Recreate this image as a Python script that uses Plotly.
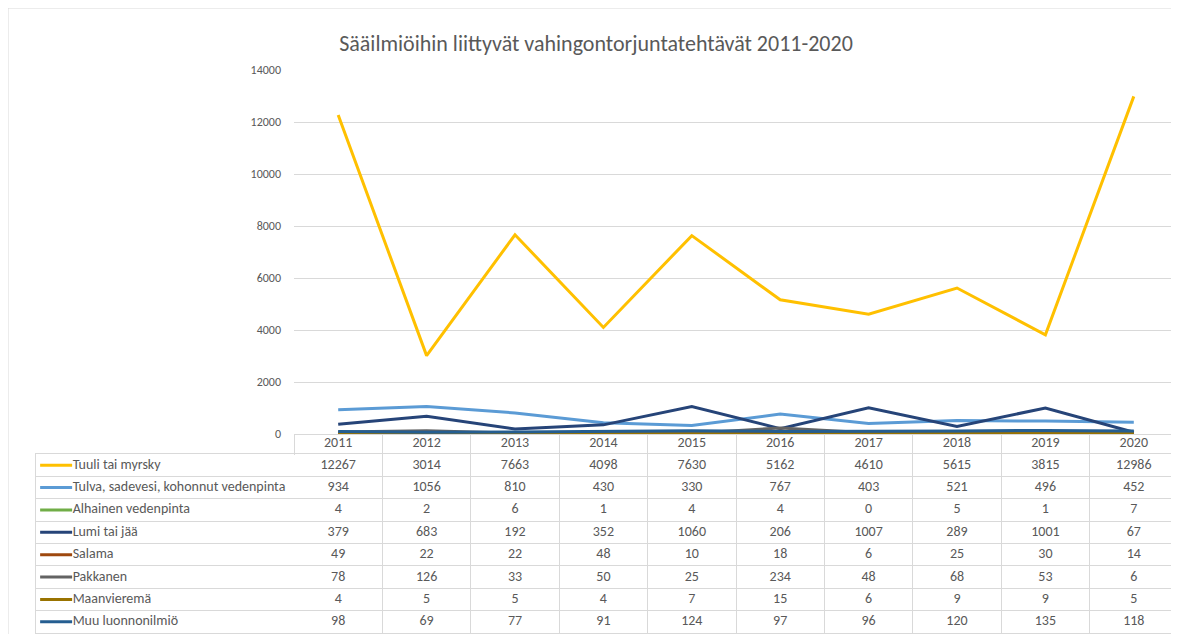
import plotly.graph_objects as go

# vuodet ja sarjat
years = ["2011", "2012", "2013", "2014", "2015", "2016", "2017", "2018", "2019", "2020"]

tuuli = [12267, 3014, 7663, 4098, 7630, 5162, 4610, 5615, 3815, 12986]
tulva = [934, 1056, 810, 430, 330, 767, 403, 521, 496, 452]
alhainen = [4, 2, 6, 1, 4, 4, 0, 5, 1, 7]
lumi = [379, 683, 192, 352, 1060, 206, 1007, 289, 1001, 67]
salama = [49, 22, 22, 48, 10, 18, 6, 25, 30, 14]
pakkanen = [78, 126, 33, 50, 25, 234, 48, 68, 53, 6]
maanvierema = [4, 5, 5, 4, 7, 15, 6, 9, 9, 5]
muu = [98, 69, 77, 91, 124, 97, 96, 120, 135, 118]

names = ["Tuuli tai myrsky", "Tulva, sadevesi, kohonnut vedenpinta",
         "Alhainen vedenpinta", "Lumi tai jää", "Salama", "Pakkanen",
         "Maanvieremä", "Muu luonnonilmiö"]
series = [tuuli, tulva, alhainen, lumi, salama, pakkanen, maanvierema, muu]
colors = ["#FFC000", "#5B9BD5", "#70AD47", "#264478",
          "#9E480E", "#636363", "#997300", "#255E91"]

FONT = "Carlito, Calibri, 'Liberation Sans Narrow', 'Open Sans', sans-serif"
GRID = "#d9d9d9"
TXT = "#595959"

W, H = 1179, 634
OFF = 8  # sivun oletusmarginaali
def px_x(v): return (v - OFF) / W
def px_y(v): return 1 - (v - OFF) / H

fig = go.Figure()

# viivat
for name, vals, c in zip(names, series, colors):
    fig.add_trace(go.Scatter(x=years, y=vals, mode="lines", name=name,
                             line=dict(color=c, width=3), xaxis="x", yaxis="y",
                             showlegend=False))

# taulukon arvot
for name, vals in zip(names, series):
    fig.add_trace(go.Scatter(x=years, y=[name] * len(years), mode="text",
                             text=[str(v) for v in vals], textposition="middle center",
                             textfont=dict(family=FONT, size=14, color=TXT),
                             xaxis="x2", yaxis="y2", showlegend=False, hoverinfo="skip"))

# selitesarake: avainviiva + nimi
for name, c in zip(names, colors):
    fig.add_trace(go.Scatter(x=[0.016, 0.14], y=[name, name], mode="lines",
                             line=dict(color=c, width=3), xaxis="x3", yaxis="y2",
                             showlegend=False, hoverinfo="skip"))
fig.add_trace(go.Scatter(x=[0.142] * len(names), y=names, mode="text", text=names,
                         textposition="middle right",
                         textfont=dict(family=FONT, size=14, color=TXT),
                         xaxis="x3", yaxis="y2", showlegend=False, hoverinfo="skip"))

fig.update_layout(
    width=W, height=H,
    margin=dict(l=0, r=0, t=0, b=0, autoexpand=False),
    paper_bgcolor="white", plot_bgcolor="white",
    font=dict(family=FONT, color=TXT),
    title=dict(text="Sääilmiöihin liittyvät vahingontorjuntatehtävät 2011-2020",
               x=px_x(596), xanchor="center", y=px_y(43), yanchor="middle",
               font=dict(family=FONT, size=22, color=TXT)),
    xaxis=dict(domain=[px_x(294), px_x(1178)], type="category", categoryorder="array",
               categoryarray=years, range=[-0.5, 9.5], anchor="y", showline=True,
               linecolor=GRID, ticks="outside", ticklen=20, tickcolor=GRID,
               tickson="boundaries", showticklabels=False, showgrid=False),
    yaxis=dict(domain=[px_y(434), px_y(70)], range=[0, 14000], dtick=2000,
               tickformat="d", gridcolor=GRID, zeroline=False, showline=False, ticks="",
               tickfont=dict(size=12, color=TXT), ticklabelstandoff=12),
    xaxis2=dict(domain=[px_x(294), px_x(1178)], type="category", categoryorder="array",
                categoryarray=years, range=[-0.5, 9.5], anchor="y2", side="top",
                showgrid=True, gridcolor=GRID, tickson="boundaries", ticks="",
                showline=True, linecolor=GRID, mirror=True,
                tickfont=dict(size=14, color=TXT), ticklabelstandoff=0),
    yaxis2=dict(domain=[px_y(633), px_y(454)], type="category", categoryorder="array",
                categoryarray=names, range=[7.5, -0.5], anchor="x3",
                showgrid=True, gridcolor=GRID, tickson="boundaries",
                showline=True, linecolor=GRID,
                showticklabels=False, ticks="", zeroline=False),
    xaxis3=dict(domain=[px_x(36), px_x(294)], range=[0, 1], anchor="y2",
                showline=True, linecolor=GRID, mirror=True,
                showgrid=False, zeroline=False, showticklabels=False, ticks=""),
    shapes=[dict(type="rect", xref="paper", yref="paper", x0=0, x1=px_x(1176),
                 y0=-0.02, y1=1, line=dict(color=GRID, width=1), layer="below")],
)

fig.write_html("out.html")
